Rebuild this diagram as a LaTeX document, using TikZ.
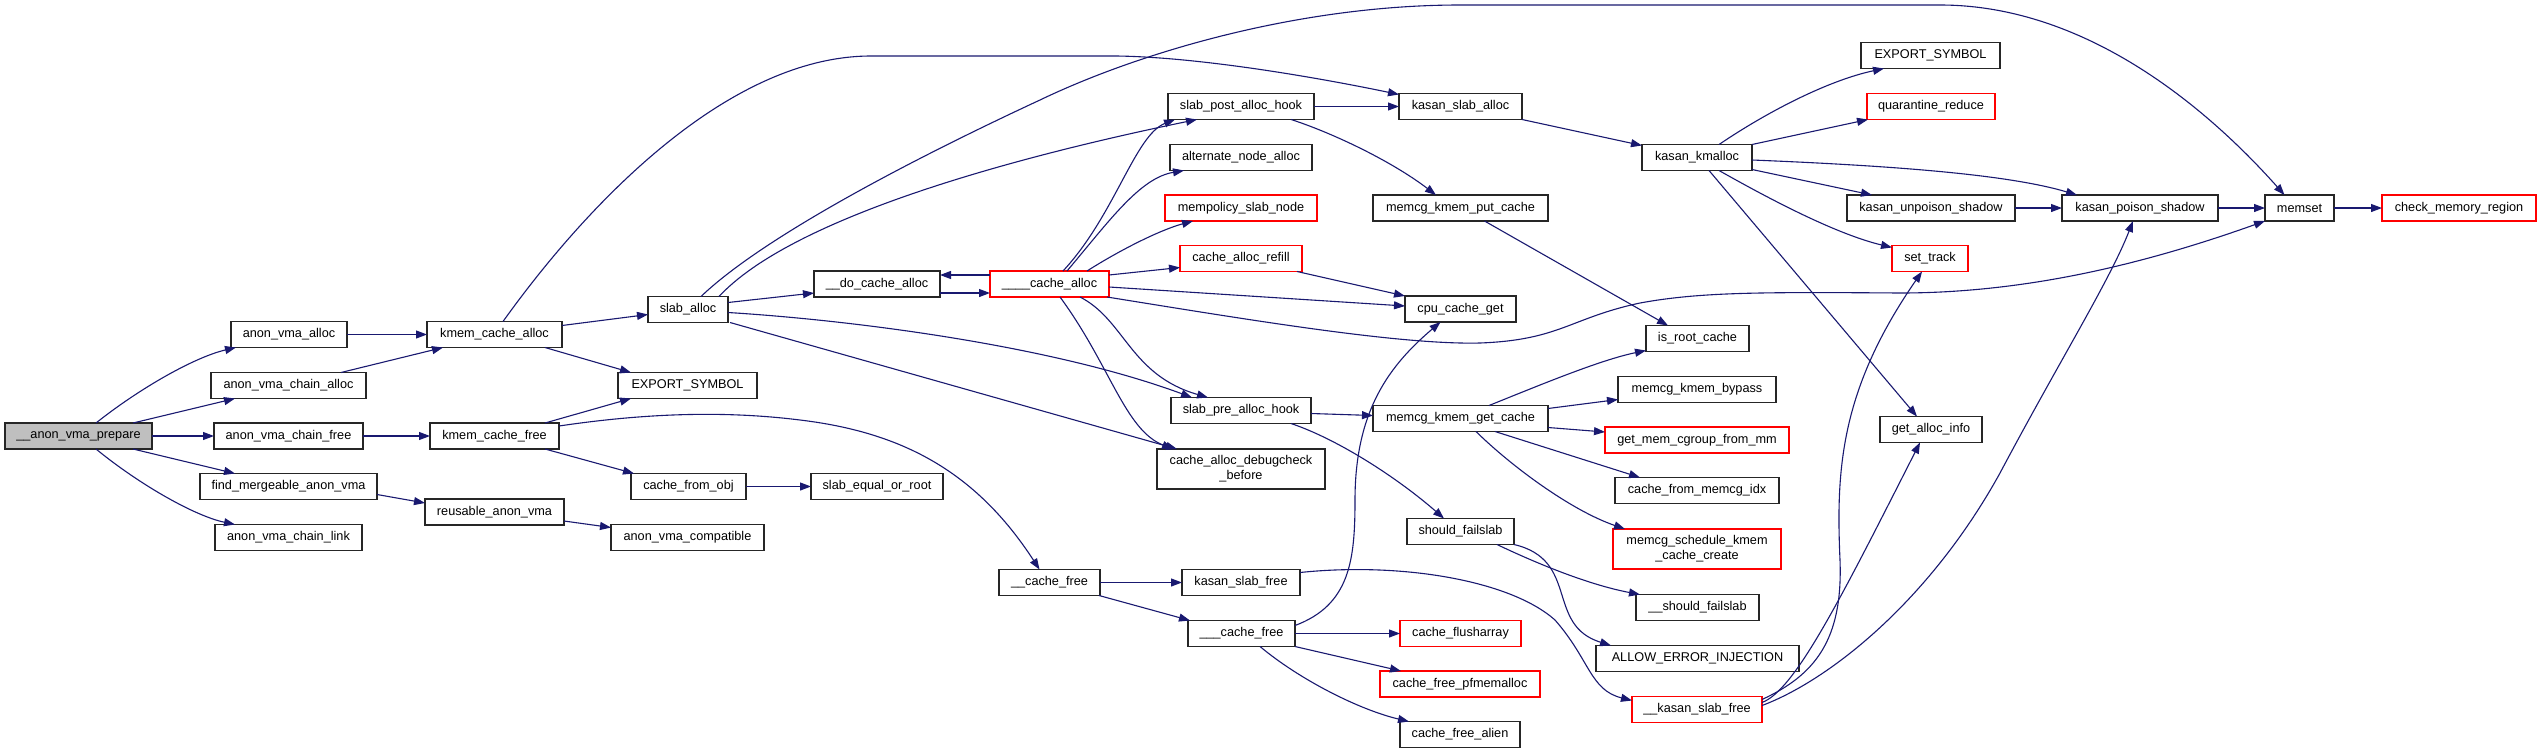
\documentclass[tikz,border=0pt]{standalone}
\usepackage{fontspec}
\setmainfont{Liberation Sans}
\usetikzlibrary{arrows.meta,calc}
\definecolor{edgecol}{HTML}{191970}
\definecolor{nodegrey}{HTML}{BFBFBF}
\begin{document}
\begin{tikzpicture}[x=1pt,y=-1pt,
  box/.style={draw=black!85, line width=1.3pt, fill=white, inner sep=0pt, outer sep=0pt,
    minimum height=26pt, font=\fontsize{12.7}{15}\selectfont, align=center},
  redbox/.style={box, draw=red},
  e/.style={draw=edgecol, line width=1.1pt, -{Triangle[length=11pt,width=8pt]}}]
\useasboundingbox[fill=white] (0,0) rectangle (2541,753);

% nodes
\node[box, fill=nodegrey, minimum width=147pt] (prep) at (78.5,436) {\_\_anon\_vma\_prepare};
\node[box, minimum width=116pt] (ava) at (289,334.5) {anon\_vma\_alloc};
\node[box, minimum width=155pt] (avca) at (288.5,385.5) {anon\_vma\_chain\_alloc};
\node[box, minimum width=149pt] (avcf) at (288.5,436) {anon\_vma\_chain\_free};
\node[box, minimum width=177pt] (fmav) at (288.5,486.5) {find\_mergeable\_anon\_vma};
\node[box, minimum width=147pt] (avcl) at (288.5,537.5) {anon\_vma\_chain\_link};
\node[box, minimum width=135pt] (kca) at (494.5,334.5) {kmem\_cache\_alloc};
\node[box, minimum width=129pt] (kcf) at (494.5,436) {kmem\_cache\_free};
\node[box, minimum width=139pt] (rav) at (494.5,512) {reusable\_anon\_vma};
\node[box, minimum width=139pt] (es1) at (687.5,385.5) {EXPORT\_SYMBOL};
\node[box, minimum width=115pt] (cfo) at (688.5,486.5) {cache\_from\_obj};
\node[box, minimum width=153pt] (avc) at (687.5,537.5) {anon\_vma\_compatible};
\node[box, minimum width=80pt] (sa) at (688,309.5) {slab\_alloc};
\node[box, minimum width=132pt] (seor) at (877,486.5) {slab\_equal\_or\_root};
\node[box, minimum width=126pt] (dca) at (877,284) {\_\_do\_cache\_alloc};
\node[redbox, minimum width=119pt] (ca) at (1049.5,284) {\_\_\_\_cache\_alloc};
\node[box, minimum width=101pt] (cfree) at (1049.5,582.5) {\_\_cache\_free};
\node[box, minimum width=146pt] (spah) at (1241,106.5) {slab\_post\_alloc\_hook};
\node[box, minimum width=142pt] (ana) at (1241,157.5) {alternate\_node\_alloc};
\node[redbox, minimum width=152pt] (msn) at (1241,208) {mempolicy\_slab\_node};
\node[redbox, minimum width=122pt] (car) at (1241,258.5) {cache\_alloc\_refill};
\node[box, minimum width=140pt] (sprah) at (1241,410.5) {slab\_pre\_alloc\_hook};
\node[box, minimum width=168pt, minimum height=40pt] (cadb) at (1241,469) {cache\_alloc\_debugcheck\\\_before};
\node[box, minimum width=118pt] (ksf) at (1241,582.5) {kasan\_slab\_free};
\node[box, minimum width=107pt] (c3free) at (1241.5,633.5) {\_\_\_cache\_free};
\node[box, minimum width=123pt] (ksa) at (1460.5,106.5) {kasan\_slab\_alloc};
\node[box, minimum width=175pt] (mkpc) at (1460.5,208) {memcg\_kmem\_put\_cache};
\node[box, minimum width=111pt] (ccg) at (1460.5,309) {cpu\_cache\_get};
\node[box, minimum width=175pt] (mkgc) at (1460.5,418.5) {memcg\_kmem\_get\_cache};
\node[box, minimum width=107pt] (sf) at (1460.5,531.5) {should\_failslab};
\node[redbox, minimum width=121pt] (cfa) at (1460.5,633.5) {cache\_flusharray};
\node[redbox, minimum width=160pt] (cfp) at (1460,684) {cache\_free\_pfmemalloc};
\node[box, minimum width=120pt] (cfal) at (1460,734.5) {cache\_free\_alien};
\node[box, minimum width=110pt] (kkm) at (1697,157.5) {kasan\_kmalloc};
\node[box, minimum width=103pt] (irc) at (1697.5,338.5) {is\_root\_cache};
\node[box, minimum width=158pt] (mkb) at (1697,389.5) {memcg\_kmem\_bypass};
\node[redbox, minimum width=184pt] (gmc) at (1697,440) {get\_mem\_cgroup\_from\_mm};
\node[box, minimum width=164pt] (cfmi) at (1697,490.5) {cache\_from\_memcg\_idx};
\node[redbox, minimum width=168pt, minimum height=40pt] (mskc) at (1697,549) {memcg\_schedule\_kmem\\\_cache\_create};
\node[box, minimum width=123pt] (ssf) at (1697.5,607.5) {\_\_should\_failslab};
\node[box, minimum width=203pt] (aei) at (1697.5,658.5) {ALLOW\_ERROR\_INJECTION};
\node[redbox, minimum width=130pt] (ksf2) at (1697,709.5) {\_\_kasan\_slab\_free};
\node[box, minimum width=139pt] (es2) at (1930.5,55.5) {EXPORT\_SYMBOL};
\node[redbox, minimum width=128pt] (qr) at (1931,106.5) {quarantine\_reduce};
\node[box, minimum width=168pt] (kus) at (1931,208) {kasan\_unpoison\_shadow};
\node[redbox, minimum width=76pt] (st) at (1930,258.5) {set\_track};
\node[box, minimum width=102pt] (gai) at (1931,429.5) {get\_alloc\_info};
\node[box, minimum width=156pt] (kps) at (2140,208) {kasan\_poison\_shadow};
\node[box, minimum width=69pt] (ms) at (2299.5,208) {memset};
\node[redbox, minimum width=154pt] (cmr) at (2459,208) {check\_memory\_region};

% edges
\draw[e] ($(prep.north)+(17.5,0)$) .. controls (140,388) and (195,357) .. ($(ava.south west)+(5,0)$);
\draw[e] ($(prep.north)+(54.5,0)$) -- ($(avca.south west)+(24,0)$);
\draw[e] (prep.east) -- (avcf.west);
\draw[e] ($(prep.south)+(54.5,0)$) -- ($(fmav.north west)+(35,0)$);
\draw[e] ($(prep.south)+(17.5,0)$) .. controls (140,485) and (195,516) .. ($(avcl.north west)+(20,0)$);
\draw[e] (ava.east) -- (kca.west);
\draw[e] ($(avca.north west)+(130,0)$) -- ($(kca.south west)+(16,0)$);
\draw[e] (avcf.east) -- (kcf.west);
\draw[e] ($(fmav.east)+(0,8)$) -- ($(rav.west)+(0,-9)$);
\draw[e] ($(rav.east)+(0,9)$) -- ($(avc.west)+(0,-10)$);
\draw[e] ($(kca.north)+(8.5,0)$) .. controls (590,200) and (730,56) .. (871,56) -- (1116,56) .. controls (1200,57) and (1320,78) .. ($(ksa.north west)+(0,1)$);
\draw[e] ($(kca.east)+(0,-9)$) -- ($(sa.west)+(0,5)$);
\draw[e] ($(kca.south east)+(-17,0)$) -- ($(es1.north west)+(13,0)$);
\draw[e] ($(kcf.north east)+(-14,0)$) -- ($(es1.south west)+(13,0)$);
\draw[e] ($(kcf.east)+(0,-10)$) .. controls (640,414) and (720,410) .. (800,420) .. controls (900,432) and (975,470) .. ($(cfree.north)+(-10,0)$);
\draw[e] ($(kcf.south east)+(-14,0)$) -- ($(cfo.north west)+(3,0)$);
\draw[e] (cfo.east) -- (seor.west);
\draw[e] ($(sa.east)+(0,-7)$) -- ($(dca.west)+(0,9)$);
\draw[e] ($(sa.north east)+(-9,0)$) .. controls (790,220) and (1000,160) .. ($(spah.south west)+(29,0)$);
\draw[e] ($(sa.north)+(13,0)$) .. controls (760,240) and (900,165) .. (1040,100) .. controls (1140,52) and (1300,5) .. (1460,5) -- (1940,5) .. controls (2080,5) and (2200,100) .. ($(ms.north)+(-15,0)$);
\draw[e] ($(sa.east)+(0,3)$) .. controls (850,320) and (1050,345) .. ($(sprah.north west)+(21,0)$);
\draw[e] ($(sa.south east)+(2,0)$) -- ($(cadb.north west)+(20,0)$);
\draw[e] ($(dca.east)+(0,9)$) -- ($(ca.west)+(0,9)$);
\draw[e] ($(ca.west)+(0,-9)$) -- ($(dca.east)+(0,-9)$);
\draw[e] ($(ca.north)+(13.5,0)$) .. controls (1115,215) and (1135,135) .. ($(spah.south west)+(7,0)$);
\draw[e] ($(ca.north)+(17.5,0)$) .. controls (1110,220) and (1140,178) .. ($(ana.south west)+(14,0)$);
\draw[e] ($(ca.north)+(37.5,0)$) .. controls (1120,250) and (1160,230) .. ($(msn.south west)+(28,0)$);
\draw[e] ($(ca.east)+(0,-9)$) -- ($(car.west)+(0,9)$);
\draw[e] ($(ca.east)+(0,3)$) -- ($(ccg.west)+(0,-3)$);
\draw[e] ($(ca.south east)+(-2,0)$) .. controls (1250,320) and (1400,345) .. (1480,343) .. controls (1560,340) and (1570,318) .. (1640,303) .. controls (1700,292) and (1760,292) .. (1900,293) .. controls (2030,293) and (2150,262) .. (ms.south west);
\draw[e] ($(ca.south)+(30.5,0)$) .. controls (1125,320) and (1130,375) .. ($(sprah.north west)+(37,0)$);
\draw[e] ($(ca.south)+(10.5,0)$) .. controls (1110,365) and (1125,430) .. ($(cadb.north west)+(16,0)$);
\draw[e] (spah.east) -- (ksa.west);
\draw[e] ($(spah.south east)+(-23,0)$) .. controls (1330,132) and (1390,160) .. ($(mkpc.north west)+(63,0)$);
\draw[e] ($(car.south east)+(-5,0)$) -- (ccg.north west);
\draw[e] ($(mkpc.south)+(24,0)$) -- ($(irc.north west)+(22,0)$);
\draw[e] (ksa.south east) -- ($(kkm.north west)+(0,1)$);
\draw[e] ($(kkm.north)+(22,0)$) .. controls (1770,110) and (1830,80) .. ($(es2.south west)+(23,0)$);
\draw[e] (kkm.north east) -- ($(qr.south west)+(1,0)$);
\draw[e] ($(kkm.east)+(0,2.5)$) .. controls (1900,166) and (2010,175) .. ($(kps.north west)+(15,0)$);
\draw[e] ($(kkm.south east)+(0,-1)$) -- ($(kus.north west)+(25,0)$);
\draw[e] ($(kkm.south)+(22,0)$) .. controls (1780,205) and (1840,235) .. ($(st.north west)+(0,2)$);
\draw[e] ($(kkm.south)+(12,0)$) -- ($(gai.north west)+(37,0)$);
\draw[e] (kus.east) -- (kps.west);
\draw[e] (kps.east) -- (ms.west);
\draw[e] (ms.east) -- (cmr.west);
\draw[e] ($(sprah.east)+(0,3)$) -- ($(mkgc.west)+(0,-3)$);
\draw[e] ($(sprah.south east)+(-20,0)$) .. controls (1340,440) and (1400,480) .. ($(sf.north west)+(37,0)$);
\draw[e] ($(mkgc.north)+(28.5,0)$) .. controls (1540,385) and (1600,360) .. ($(irc.south west)+(0,-1)$);
\draw[e] ($(mkgc.east)+(0,-10)$) -- ($(mkb.west)+(0,10)$);
\draw[e] ($(mkgc.east)+(0,9)$) -- ($(gmc.west)+(0,-8)$);
\draw[e] ($(mkgc.south)+(34.5,0)$) -- ($(cfmi.north west)+(25,0)$);
\draw[e] ($(mkgc.south)+(15.5,0)$) .. controls (1510,465) and (1570,510) .. ($(mskc.north west)+(12,0)$);
\draw[e] ($(sf.south)+(36.5,0)$) .. controls (1540,565) and (1590,585) .. ($(ssf.north west)+(4,0)$);
\draw[e] (sf.south east) .. controls (1580,560) and (1545,625) .. ($(aei.north west)+(15,0)$);
\draw[e] (cfree.east) -- (ksf.west);
\draw[e] ($(cfree.south east)+(-1,0)$) -- ($(c3free.north west)+(2,0)$);
\draw[e] ($(ksf.east)+(0,-10)$) .. controls (1400,562) and (1510,580) .. (1555,620) .. controls (1590,660) and (1590,690) .. ($(ksf2.west)+(0,-9)$);
\draw[e] ($(c3free.east)+(0,-8)$) .. controls (1350,605) and (1355,560) .. (1355,500) .. controls (1355,410) and (1390,365) .. ($(ccg.south)+(-20,0)$);
\draw[e] (c3free.east) -- (cfa.west);
\draw[e] (c3free.south east) -- ($(cfp.north west)+(21,0)$);
\draw[e] ($(c3free.south)+(18.5,0)$) .. controls (1300,680) and (1360,710) .. ($(cfal.north west)+(9,0)$);
\draw[e] ($(ksf2.east)+(0,-10)$) .. controls (1815,675) and (1843,640) .. (1840,560) .. controls (1836,470) and (1840,390) .. ($(st.south west)+(30,0)$);
\draw[e] ($(ksf2.east)+(0,-7)$) .. controls (1795,690) and (1840,600) .. ($(gai.south west)+(40,0)$);
\draw[e] ($(ksf2.east)+(0,-4)$) .. controls (1830,680) and (1930,600) .. (2000,473) .. controls (2060,360) and (2110,280) .. ($(kps.south west)+(71,0)$);
\end{tikzpicture}
\end{document}
